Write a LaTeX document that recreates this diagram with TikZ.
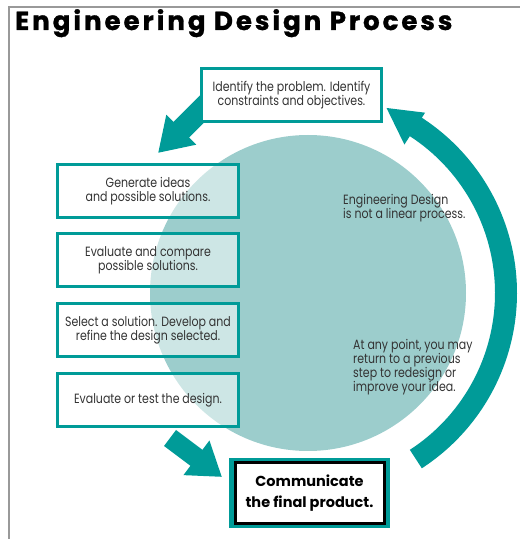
\documentclass[tikz,border=0pt]{standalone}
\usepackage{fontspec}
\setmainfont{Poppins}
\newfontfamily\bodyfont[FakeStretch=0.82]{Poppins}
\newfontfamily\titlefont[LetterSpace=11.5,FakeBold=1.2]{Poppins}
\usetikzlibrary{arrows.meta}
\definecolor{tealA}{HTML}{009B98}
\definecolor{circ}{HTML}{9CCDCC}
\definecolor{txt}{HTML}{333333}
\definecolor{frame}{HTML}{999999}
\begin{document}
\begin{tikzpicture}[x=1pt,y=1pt,
  bodytext/.style={font=\bodyfont\fontsize{13.4}{14}\selectfont, text=txt},
  stepbox/.style={bodytext, draw=tealA, line width=3pt, fill=white, fill opacity=0.5, text opacity=1,
    minimum width=181pt, minimum height=53pt, align=center, inner sep=0pt},
  topbox/.style={stepbox, fill opacity=1, minimum width=180pt},
  bigarrow/.style={tealA, line width=22pt, -{Triangle[width=40pt,length=33pt]}},
  botarrow/.style={tealA, line width=20pt, -{Triangle[width=41pt,length=32pt]}}]
\useasboundingbox (0,0) rectangle (520,539);
% frame
\draw[frame, line width=1.5pt] (9,0) coordinate (fb) -- (9,532) coordinate (fc) -- (520,532) coordinate (fr);
% title
\node[anchor=base west, inner sep=0pt, font=\titlefont\bfseries\fontsize{26}{30}\selectfont] (title) at (15,509) {Engineering Design Process};
% circle
\fill[circ] (308,246) circle[radius=158];
% circular arrow
\fill[tealA, shift={(308,246)}] (-57:187) arc[start angle=-57,end angle=57,radius=187]
  -- (57:177) -- (67:201) -- (57:215) -- (57:209) arc[start angle=57,end angle=-57,radius=209] -- cycle;
% texts in circle
\node[bodytext, align=left, anchor=west, inner sep=0pt] (t1) at (343,330.7) {Engineering Design\\is not a linear process.};
\node[bodytext, align=left, anchor=west, inner sep=0pt] (t2) at (353,172) {At any point, you may\\return to a previous\\step to redesign or\\improve your idea.};
% arrows
\coordinate (a1s) at (218,446);
\coordinate (a1e) at (158,386);
\draw[bigarrow] (a1s) -- (a1e);
% boxes
\node[topbox] (top) at (291.5,444) {Identify the problem. Identify\\constraints and objectives.};
\node[stepbox] (b1) at (148,348) {Generate ideas\\and possible solutions.};
\node[stepbox] (b2) at (148,278.5) {Evaluate and compare\\possible solutions.};
\node[stepbox] (b3) at (148,208.5) {Select a solution. Develop and\\refine the design selected.};
\node[stepbox] (b4) at (148,139) {Evaluate or test the design.};
\coordinate (a2s) at ([shift={(22,-10)}]b4.south);
\coordinate (a2e) at (222,62);
\draw[botarrow] (a2s) -- (a2e);
% communicate
\node[draw=tealA, line width=5pt, fill=white, minimum width=156pt, minimum height=65pt, inner sep=0pt,
  align=center, font=\bfseries\fontsize{14.5}{21}\selectfont, text=black] (comm) at (309.5,46) {Communicate\\the final product.};
\draw[black, line width=3pt] ([shift={(6,-4.5)}]comm.north west) rectangle ([shift={(-6,4.5)}]comm.south east);
\end{tikzpicture}
\end{document}
